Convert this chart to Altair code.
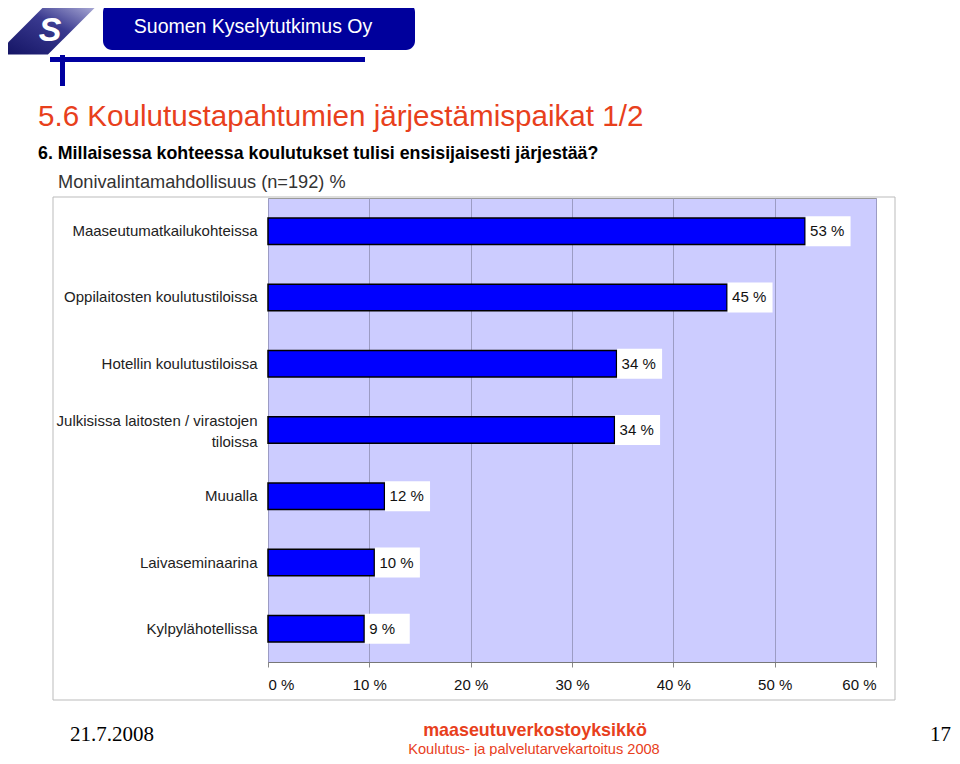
import altair as alt
import pandas as pd

categories = [
    "Maaseutumatkailukohteissa",
    "Oppilaitosten koulutustiloissa",
    "Hotellin koulutustiloissa",
    "Julkisissa laitosten / virastojen tiloissa",
    "Muualla",
    "Laivaseminaarina",
    "Kylpylähotellissa",
]
values = [53.0, 45.3, 34.4, 34.2, 11.5, 10.5, 9.5]
value_labels = ["53 %", "45 %", "34 %", "34 %", "12 %", "10 %", "9 %"]
x_ticks = [0, 10, 20, 30, 40, 50, 60]

df = pd.DataFrame({"cat": categories, "val": values, "lab": value_labels})

OX, OY = 268, 198  # plot origin on the page


def px(x):
    return x - OX


def py(y):
    return y - OY


one = pd.DataFrame({"a": [0]})
FONT = "Liberation Sans"

nb = "\u00a0" * 19
label_expr = (
    "datum.label == 'Julkisissa laitosten / virastojen tiloissa' ? "
    "['Julkisissa laitosten / virastojen', 'tiloissa" + nb + "'] : datum.label"
)

y_enc = alt.Y(
    "cat:N",
    sort=categories,
    scale=alt.Scale(paddingInner=0.6, paddingOuter=0.3),
    axis=alt.Axis(
        title=None, ticks=False, domain=False, labelFontSize=15, labelColor="#222",
        labelPadding=11, labelExpr=label_expr, labelLimit=320, labelFont=FONT,
        labelLineHeight=21,
        labelOffset={
            "condition": {"test": "indexof(datum.label, 'Julkisissa') == 0", "value": -9},
            "value": 0,
        },
    ),
)
x_enc = alt.X(
    "val:Q",
    scale=alt.Scale(domain=[0, 60], nice=False),
    axis=alt.Axis(
        values=x_ticks, labelExpr="datum.value + ' %'", title=None, grid=True,
        gridColor="#9c9cc4", gridWidth=1, labelFontSize=15, labelPadding=10,
        tickColor="#888", tickSize=5, domainColor="#777", labelFont=FONT,
        labelColor="#111",
    ),
)

bars = alt.Chart(df).mark_bar(color="#0000FF", stroke="#000000", strokeWidth=1.5).encode(
    x=x_enc, y=y_enc
)
boxes = alt.Chart(df).mark_rect(width=45, height=30, color="white", xOffset=23).encode(
    x="val:Q", y=alt.Y("cat:N", sort=categories)
)
texts = alt.Chart(df).mark_text(
    align="left", baseline="middle", dx=5, fontSize=15, color="#111", font=FONT
).encode(x="val:Q", y=alt.Y("cat:N", sort=categories), text="lab:N")


def txt(x, y, s, size, color="#000", weight="normal", align="left", font=FONT, style="normal"):
    return alt.Chart(one).mark_text(
        align=align, baseline="alphabetic", fontSize=size, color=color,
        fontWeight=weight, font=font, fontStyle=style,
    ).encode(x=alt.value(px(x)), y=alt.value(py(y)), text=alt.value(s))


def box(x1, x2, y1, y2, fill, stroke=None, radius=0, opacity=1):
    kw = dict(fill=fill, cornerRadius=radius, fillOpacity=opacity)
    if stroke:
        kw["stroke"] = stroke
        kw["strokeWidth"] = 1
    return alt.Chart(one).mark_rect(**kw).encode(
        x=alt.value(px(x1)), x2=alt.value(px(x2)), y=alt.value(py(y1)), y2=alt.value(py(y2))
    )


frame = box(53, 895, 197, 700, "#ffffff", stroke="#bbbbbb", opacity=0)

logo_grad = alt.LinearGradient(
    gradient="linear",
    stops=[alt.GradientStop(color="#101060", offset=0),
           alt.GradientStop(color="#3a3a90", offset=0.55),
           alt.GradientStop(color="#c8c8e8", offset=1)],
    x1=0, y1=1, x2=1, y2=0,
)
logo_shape = alt.Chart(one).mark_point(
    shape="M -1 0.51 L 0.02 -0.51 L 1 -0.51 L -0.02 0.51 Z",
    filled=True, color=logo_grad, size=11300, opacity=1,
).encode(x=alt.value(px(49)), y=alt.value(py(27.5)))
logo_s = txt(50, 41, "S", 34, color="#ffffff", weight="bold", align="center", style="italic")
brand_box = box(103, 415, 3, 50, "#00009c", radius=9)
brand_txt = txt(253, 33, "Suomen Kyselytutkimus Oy", 19.5, color="#ffffff", align="center")
hline = box(50, 365, 57, 62, "#0000a0")
vline = box(60, 65, 55, 86, "#0000a0")

title = txt(38, 126, "5.6 Koulutustapahtumien järjestämispaikat 1/2", 29.6, color="#e8401c")
sub1 = txt(38, 159, "6. Millaisessa kohteessa koulutukset tulisi ensisijaisesti järjestää?", 17.8,
           color="#000", weight="bold")
sub2 = txt(58, 188, "Monivalintamahdollisuus (n=192) %", 18.2, color="#333")

f_date = txt(70, 741, "21.7.2008", 21, color="#000", font="Liberation Serif")
f_org = txt(535, 736, "maaseutuverkostoyksikkö", 17.9, color="#e8401c", weight="bold", align="center")
f_sub = txt(534, 754, "Koulutus- ja palvelutarvekartoitus 2008", 14.6, color="#e8401c", align="center")
f_page = txt(951, 741, "17", 21, color="#000", align="right", font="Liberation Serif")

chart = alt.layer(
    frame, bars, boxes, texts,
    logo_shape, logo_s, brand_box, brand_txt, hline, vline,
    title, sub1, sub2, f_date, f_org, f_sub, f_page,
).properties(
    width=608, height=464,
    autosize=alt.AutoSizeParams(type="none"),
    padding={"left": 260, "top": 190, "right": 76, "bottom": 94},
).configure(
    background="white"
).configure_view(
    fill="#ccccff", stroke="#999999"
)

chart.save("out.html", embed_options={"renderer": "svg", "actions": False})
